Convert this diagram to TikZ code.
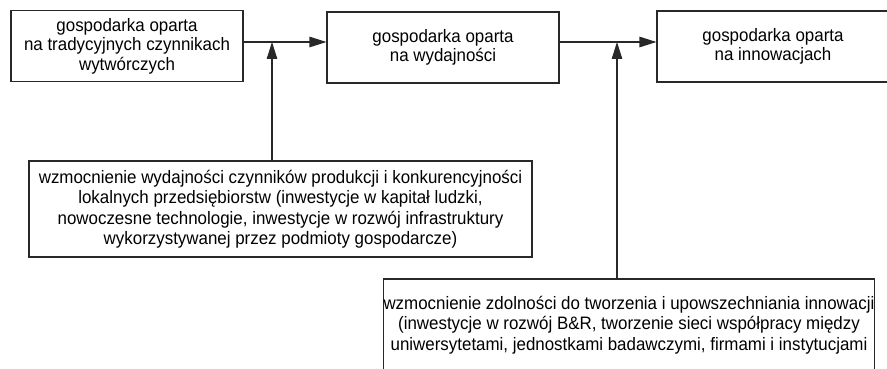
\documentclass[tikz,border=0pt]{standalone}
\usepackage{fontspec}
\setmainfont{Liberation Sans}[FakeStretch=0.94]
\usepackage{tikz}
\usetikzlibrary{arrows.meta}

\definecolor{linia}{RGB}{40,40,40}

\begin{document}
\begin{tikzpicture}[x=1pt,y=1pt,yscale=-1,xscale=1,
    stage/.style={draw=linia, line width=1.1pt, minimum width=232pt, minimum height=71pt, inner sep=0pt, align=center, text=black, font=\fontsize{18}{19.5}\selectfont},
    lever/.style={draw=linia, line width=1.1pt, inner sep=0pt, align=center, text=black, font=\fontsize{18}{20.5}\selectfont},
    link/.style={draw=linia, line width=1.1pt, -{Triangle[length=17pt,width=10.5pt]}}]
    \clip (0,0) rectangle (887,369); %diagram is 887 wide and 369 high

    % Stages
    \node [stage] (tradycja) at (127,46) {gospodarka oparta\\na tradycyjnych czynnikach\\wytwórczych};
    \node [stage] (wydajnosc) at (443,47.5) {gospodarka oparta\\na wydajności};
    \node [stage] (innowacje) at (773,46.5) {gospodarka oparta\\na innowacjach};

    % Levers
    \node [lever, minimum width=503pt, minimum height=96pt] (czynniki) at (280.5,209) {wzmocnienie wydajności czynników produkcji i konkurencyjności\\lokalnych przedsiębiorstw (inwestycje w kapitał ludzki,\\nowoczesne technologie, inwestycje w rozwój infrastruktury\\wykorzystywanej przez podmioty gospodarcze)};
    \node [lever, minimum width=488pt, minimum height=92pt] (zdolnosci) at (629,325) {wzmocnienie zdolności do tworzenia i upowszechniania innowacji\\(inwestycje w rozwój B\&R, tworzenie sieci współpracy między\\uniwersytetami, jednostkami badawczymi, firmami i instytucjami};

    % Junctions
    \coordinate (wejscieA) at (272,42);
    \coordinate (wejscieB) at (617,42);

    % Arrows
    \draw [link] (tradycja.east |- wejscieA) -- (wydajnosc.west |- wejscieA);
    \draw [link] (wydajnosc.east |- wejscieB) -- (innowacje.west |- wejscieB);
    \draw [link] (czynniki.north -| wejscieA) -- (wejscieA);
    \draw [link] (zdolnosci.north -| wejscieB) -- (wejscieB);
\end{tikzpicture}
\end{document}
